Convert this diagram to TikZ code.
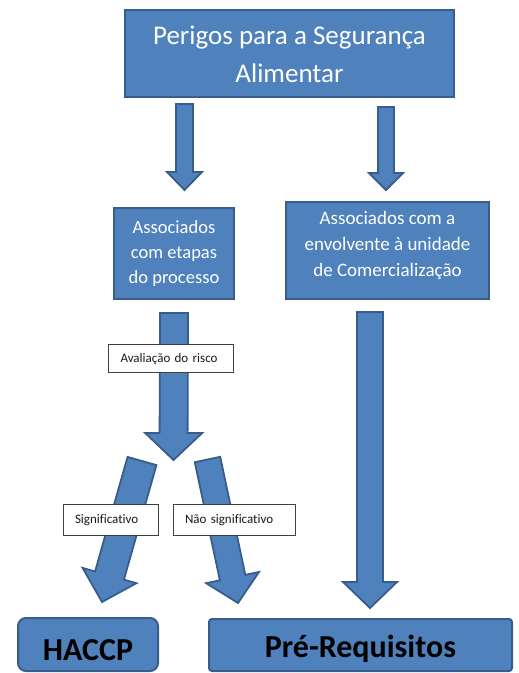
\documentclass[tikz,border=0pt]{standalone}
\usepackage{fontspec}
\setmainfont{Carlito}[Ligatures=NoCommon]
\usetikzlibrary{calc}

\definecolor{boxfill}{HTML}{4F81BD}
\definecolor{boxline}{HTML}{385D8A}

\tikzset{
  hazardbox/.style={draw=boxline, fill=boxfill, line width=2pt, text=white,
    align=center, inner sep=0pt, text depth=0pt},
  outcomebox/.style={draw=boxline, fill=boxfill, line width=2pt, text=black,
    inner sep=0pt, text depth=0pt, font=\bfseries\fontsize{32}{38}\selectfont},
  tagbox/.style={draw=black!75, fill=white, line width=0.8pt, text=black!90,
    align=left, inner xsep=12pt, inner ysep=0pt,
    font=\fontsize{13}{15}\selectfont},
  blockarrow/.style={draw=boxline, fill=boxfill, line width=1.8pt, line join=miter}
}

% Block arrow from #1 to #2: shaft half-width #3, head half-width #4, head length #5
\newcommand{\blockarrow}[5]{%
  \coordinate (ba-h) at ($(#2)!#5!(#1)$);
  \draw[blockarrow]
    ($(#1)!#3!90:(#2)$) -- ($(ba-h)!#3!90:(#2)$) -- ($(ba-h)!#4!90:(#2)$) --
    (#2) --
    ($(ba-h)!#4!-90:(#2)$) -- ($(ba-h)!#3!-90:(#2)$) -- ($(#1)!#3!-90:(#2)$) -- cycle;}

\begin{document}
\begin{tikzpicture}[x=1pt, y=-1pt]
  \useasboundingbox (0,0) rectangle (519,673);

  % hazard boxes (text height = distance from text top to last baseline)
  \node[hazardbox, minimum width=329pt, minimum height=87pt, text height=57pt,
        font=\fontsize{27}{38}\selectfont] (perigos) at (289.5,53.5)
        {Perigos para a Segurança\\Alimentar};
  \node[hazardbox, minimum width=120pt, minimum height=91pt, text height=59.6pt,
        font=\fontsize{18.5}{25}\selectfont] (etapas) at (174,253.5)
        {Associados\\com etapas\\do processo};
  \node[hazardbox, minimum width=203pt, minimum height=97pt, text height=52.4pt,
        font=\fontsize{19}{26}\selectfont] (envolvente) at (387.5,250.5)
        {Associados com a\\envolvente à unidade\\de Comercialização};

  % outcome boxes
  \node[outcomebox, rounded corners=8pt, minimum width=140pt, minimum height=53pt,
        text height=31pt] (haccp) at (88,644.5) {HACCP};
  \node[outcomebox, rounded corners=3pt, minimum width=303pt, minimum height=52pt,
        text height=24pt] (prereq) at (360.5,645) {Pré-Requisitos};

  % arrow end points
  \coordinate (a1s) at (184.5,104);  \coordinate (a1e) at (184.5,190);
  \coordinate (a2s) at (386,107);    \coordinate (a2e) at (386,190);
  \coordinate (a3s) at (174,313);    \coordinate (a3e) at (173.5,460);
  \coordinate (a4s) at (370,312);    \coordinate (a4e) at (370,608);
  \coordinate (a5s) at (142,461);    \coordinate (a5e) at (102,602);
  \coordinate (a6s) at (207.5,459.5); \coordinate (a6e) at (238,603);

  % block arrows
  \blockarrow{a1s}{a1e}{8.5pt}{17.5pt}{18pt}
  \blockarrow{a2s}{a2e}{8pt}{17pt}{17pt}
  \blockarrow{a3s}{a3e}{14pt}{28.5pt}{27pt}
  \blockarrow{a4s}{a4e}{13pt}{27pt}{26pt}
  \blockarrow{a5s}{a5e}{15pt}{28pt}{27.5pt}
  \blockarrow{a6s}{a6e}{13pt}{27pt}{26pt}

  % arrow labels
  \node[tagbox, text width=101pt, minimum height=28pt,
        text height=9.4pt, text depth=1pt] (risco) at (171,358.5)
        {Avaliação do risco};
  \node[tagbox, text width=71pt, minimum height=31pt,
        text height=8pt, text depth=1.4pt] (signif) at (110.5,520)
        {Significativo};
  \node[tagbox, text width=98pt, minimum height=31pt,
        text height=8pt, text depth=1.4pt] (naosignif) at (234,520)
        {Não significativo};
\end{tikzpicture}
\end{document}
